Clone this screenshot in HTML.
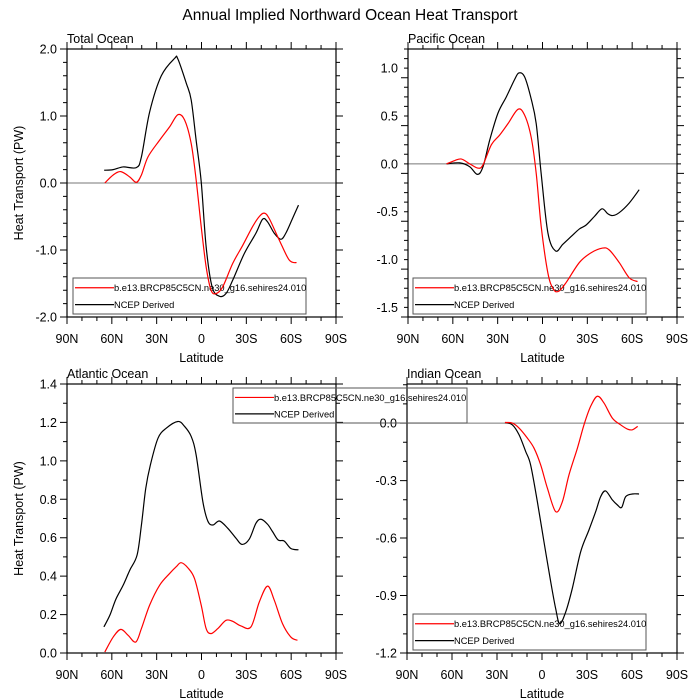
<!DOCTYPE html>
<html><head><meta charset="utf-8"><style>
body{margin:0;background:#fff}
svg{display:block;font-family:"Liberation Sans",sans-serif}
</style></head><body>
<svg id="c" width="700" height="700" viewBox="0 0 700 700">
<text x="350" y="20" font-size="15.5" text-anchor="middle">Annual Implied Northward Ocean Heat Transport</text>
</svg>
<script>
const totLatB=[65.1,59.1,52.4,43.6,40.2,34.7,26.9,18.0,15.8,10.2,6.9,3.6,0.2,-3.1,-7.1,-12.0,-16.4,-20.9,-28.7,-36.4,-40.9,-44.2,-48.7,-53.1,-56.4,-60.9,-64.9];
const totValB=[0.19,0.20,0.24,0.23,0.39,1.06,1.60,1.86,1.85,1.49,1.24,0.64,0.02,-0.95,-1.55,-1.69,-1.65,-1.45,-1.05,-0.75,-0.54,-0.58,-0.75,-0.84,-0.75,-0.53,-0.33];
const totLatR=[64.7,59.1,54.0,48.0,43.6,40.2,35.8,28.0,21.3,15.8,11.3,6.9,3.6,0.2,-3.1,-6.4,-9.8,-14.2,-20.9,-27.6,-34.2,-38.7,-42.0,-45.3,-52.0,-58.7,-63.6];
const totValR=[0.00,0.12,0.17,0.09,0.01,0.12,0.39,0.64,0.84,1.02,0.94,0.59,0.05,-0.65,-1.25,-1.60,-1.65,-1.55,-1.20,-0.93,-0.65,-0.50,-0.45,-0.53,-0.85,-1.15,-1.19];
const pacLatB=[64.2,55.3,48.7,43.6,39.8,35.3,29.8,24.2,18.7,15.8,12.0,7.6,4.2,0.9,-3.6,-8.7,-13.6,-19.1,-24.7,-29.1,-34.7,-39.8,-43.6,-46.9,-51.3,-58.0,-64.7];
const pacValB=[0.00,0.01,-0.03,-0.11,-0.03,0.25,0.53,0.70,0.88,0.95,0.91,0.68,0.42,-0.10,-0.72,-0.91,-0.84,-0.76,-0.68,-0.64,-0.55,-0.47,-0.52,-0.54,-0.51,-0.41,-0.27];
const pacLatR=[64.2,58.7,54.2,48.7,43.1,39.8,34.2,28.7,23.1,16.4,12.0,7.6,4.2,0.9,-3.6,-7.3,-10.9,-15.8,-24.7,-32.4,-40.2,-44.7,-51.3,-58.0,-63.6];
const pacValR=[0.00,0.035,0.05,0.00,-0.045,-0.01,0.20,0.30,0.42,0.57,0.51,0.28,-0.10,-0.65,-1.14,-1.31,-1.33,-1.24,-1.03,-0.93,-0.88,-0.90,-1.03,-1.19,-1.23];
const atlLatB=[65.3,61.3,57.3,52.4,48.0,43.1,40.2,37.3,34.2,29.1,23.6,15.8,11.3,6.9,3.6,-0.9,-4.2,-7.6,-12.0,-17.6,-23.1,-27.1,-32.0,-36.4,-39.8,-44.2,-47.6,-51.3,-55.3,-59.8,-64.9];
const atlValB=[0.136,0.197,0.280,0.353,0.431,0.510,0.666,0.857,0.979,1.118,1.170,1.205,1.179,1.127,1.031,0.788,0.687,0.666,0.687,0.649,0.597,0.565,0.593,0.675,0.696,0.670,0.631,0.588,0.583,0.544,0.537];
const atlLatR=[64.7,59.1,54.0,49.1,44.0,40.2,34.7,28.0,21.3,16.9,13.6,9.1,4.7,0.2,-3.1,-6.4,-10.9,-16.4,-20.9,-26.4,-33.1,-38.7,-44.2,-48.7,-54.2,-59.8,-64.2];
const atlValR=[0.005,0.083,0.123,0.092,0.057,0.127,0.249,0.353,0.414,0.449,0.470,0.443,0.388,0.249,0.127,0.101,0.127,0.170,0.165,0.141,0.136,0.266,0.348,0.275,0.153,0.083,0.066];
const indLatB=[24.7,19.8,15.3,10.9,7.6,3.1,-1.3,-5.8,-9.1,-11.8,-15.8,-20.2,-25.8,-31.3,-35.8,-39.1,-42.4,-46.9,-50.2,-53.1,-55.8,-60.2,-64.7];
const indValB=[0.003,-0.009,-0.061,-0.148,-0.218,-0.410,-0.619,-0.828,-0.968,-1.047,-0.986,-0.863,-0.671,-0.558,-0.462,-0.384,-0.354,-0.401,-0.427,-0.440,-0.384,-0.370,-0.370];
const indLatR=[24.7,19.8,15.3,9.8,5.3,0.9,-3.6,-9.1,-13.6,-18.0,-23.6,-28.0,-32.4,-36.9,-41.3,-46.9,-52.4,-56.9,-60.2,-63.8];
const indValR=[0.003,0.0,-0.026,-0.078,-0.131,-0.218,-0.340,-0.462,-0.410,-0.270,-0.131,-0.009,0.087,0.140,0.105,0.026,-0.009,-0.031,-0.035,-0.017];
const xTickLabels=["90N","60N","30N","0","30S","60S","90S"];
const totTicks=[2.0,1.0,0.0,-1.0,-2.0];
const pacTicks=[1.0,0.5,0.0,-0.5,-1.0,-1.5];
const atlTicks=[1.4,1.2,1.0,0.8,0.6,0.4,0.2,0.0];
const indTicks=[0.0,-0.3,-0.6,-0.9,-1.2];
const legendModel="b.e13.BRCP85C5CN.ne30_g16.sehires24.010";
const legendObs="NCEP Derived";

const NS="http://www.w3.org/2000/svg";
const svg=document.getElementById('c');
function mk(tag,at,parent){const e=document.createElementNS(NS,tag);for(const k in at)e.setAttribute(k,at[k]);(parent||svg).appendChild(e);return e;}
function smooth(pts){let d="M"+pts[0][0].toFixed(2)+","+pts[0][1].toFixed(2);
 for(let i=0;i<pts.length-1;i++){const p0=pts[i-1]||pts[i],p1=pts[i],p2=pts[i+1],p3=pts[i+2]||p2;
  const c1=[p1[0]+(p2[0]-p0[0])/6,p1[1]+(p2[1]-p0[1])/6],c2=[p2[0]-(p3[0]-p1[0])/6,p2[1]-(p3[1]-p1[1])/6];
  d+=" C"+c1[0].toFixed(2)+","+c1[1].toFixed(2)+" "+c2[0].toFixed(2)+","+c2[1].toFixed(2)+" "+p2[0].toFixed(2)+","+p2[1].toFixed(2);}
 return d;}
function fmt(v,dec){return v.toFixed(dec);}

function legend(name,x,y,w,h){
 const g=mk('g',{});
 
 
 mk('rect',{x:x,y:y,width:w,height:h,fill:'none',stroke:'#555','stroke-width':1},g);
 const r1=y+h*0.27,r2=y+h*0.74;
 mk('line',{x1:x+2,x2:x+41,y1:r1,y2:r1,stroke:'#f00','stroke-width':1.2},g);
 mk('line',{x1:x+2,x2:x+41,y1:r2,y2:r2,stroke:'#000','stroke-width':1.2},g);
 const a=mk('text',{x:x+41,y:r1+3.5,'font-size':9.3},g);a.textContent=legendModel;
 
 const b=mk('text',{x:x+41,y:r2+3.5,'font-size':9.3},g);b.textContent=legendObs;
 
}

function panel(o){
 const g=mk('g',{});
 
 
 const L=o.x0,R=o.x1,T=o.y0,B=o.y1;
 const xs=lat=>L+(90-lat)/180*(R-L);
 const ys=v=>B-(v-o.ymin)/(o.ymax-o.ymin)*(B-T);
 const t=mk('text',{x:L,y:T-6,'font-size':12.5},g);t.textContent=o.title;
 
 const z=mk('line',{x1:L,x2:R,y1:ys(0),y2:ys(0),stroke:'#777','stroke-width':1},g);
 
 if(o.legend){legend(o.name,o.legend[0],o.legend[1],o.legend[2],o.legend[3]);}
 const g2=mk('g',{});
 
 
 const sb=mk('path',{d:smooth(o.latB.map((l,i)=>[xs(l),ys(o.valB[i])])),fill:'none',stroke:'#000','stroke-width':1.2},g2);
 
 const sr=mk('path',{d:smooth(o.latR.map((l,i)=>[xs(l),ys(o.valR[i])])),fill:'none',stroke:'#f00','stroke-width':1.2},g2);
 
 const f=mk('rect',{x:L,y:T,width:R-L,height:B-T,fill:'none',stroke:'#000','stroke-width':1.2},g2);
 
 let tk="";
 for(let lat=90;lat>=-90;lat-=10){const x=xs(lat),len=(lat%30===0)?7:4;tk+=`M${x},${B}v${len}M${x},${T}v${-len}`;}
 const n=Math.round((o.ymax-o.ymin)/o.minor+1e-6);
 for(let i=0;i<=n+1;i++){const v=o.ymin+i*o.minor;if(v>o.ymax+1e-6)break;const y=ys(v);
  const maj=Math.abs(((v-o.ymin)/o.major)-Math.round((v-o.ymin)/o.major))<1e-3;const len=maj?7:4;
  tk+=`M${L},${y}h${-len}M${R},${y}h${len}`;}
 const tp=mk('path',{d:tk,stroke:'#000','stroke-width':1,fill:'none'},g2);
 
 xTickLabels.forEach((s,i)=>{const e=mk('text',{x:xs(90-30*i),y:B+26,'font-size':12.5,'text-anchor':'middle'},g2);e.textContent=s;
  });
 o.ticks.forEach(v=>{const e=mk('text',{x:L-10,y:ys(v)+4.5,'font-size':12.5,'text-anchor':'end'},g2);e.textContent=fmt(v,o.dec);
  });
 const xl=mk('text',{x:(L+R)/2,y:B+45,'font-size':12.5,'text-anchor':'middle'},g2);xl.textContent="Latitude";
 
 if(o.ytitle){const yt=mk('text',{x:0,y:0,'font-size':12.5,'text-anchor':'middle',transform:`translate(${L-44},${(T+B)/2}) rotate(-90)`},g2);yt.textContent="Heat Transport (PW)";
  }
}
panel({name:'total-ocean',title:'Total Ocean',x0:67,x1:336,y0:49,y1:317,ymin:-2,ymax:2,major:1,minor:0.2,ticks:totTicks,dec:1,ytitle:true,latB:totLatB,valB:totValB,latR:totLatR,valR:totValR,legend:[73,278,233,36]});
panel({name:'pacific-ocean',title:'Pacific Ocean',x0:408,x1:677,y0:49,y1:317,ymin:-1.6,ymax:1.2,major:0.5,minor:0.1,ticks:pacTicks,dec:1,ytitle:false,latB:pacLatB,valB:pacValB,latR:pacLatR,valR:pacValR,legend:[413,278,233,36]});
panel({name:'atlantic-ocean',title:'Atlantic Ocean',x0:67,x1:336,y0:384,y1:653,ymin:0,ymax:1.4,major:0.2,minor:0.1,ticks:atlTicks,dec:1,ytitle:true,latB:atlLatB,valB:atlValB,latR:atlLatR,valR:atlValR});
panel({name:'indian-ocean',title:'Indian Ocean',x0:407,x1:677,y0:384,y1:653,ymin:-1.2,ymax:0.204,major:0.3,minor:0.1,ticks:indTicks,dec:1,ytitle:false,latB:indLatB,valB:indValB,latR:indLatR,valR:indValR,legend:[413,614,233,36]});
legend('atlantic-ocean',233,388,234,35);
</script>
</body></html>
